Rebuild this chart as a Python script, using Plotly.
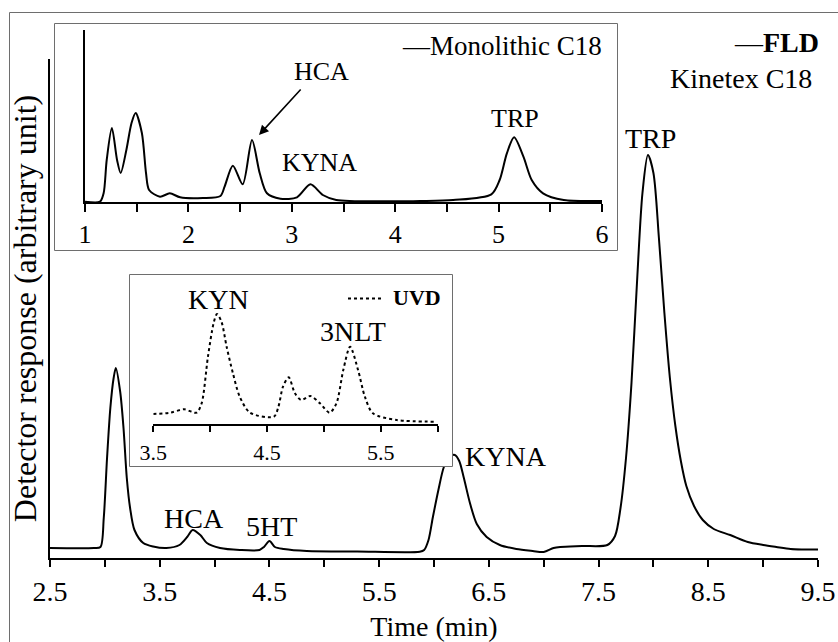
import plotly.graph_objects as go

# ---------------- data ----------------
# Main chromatogram: FLD, Kinetex C18 (time in min, response arbitrary)
main_time = [2.5, 2.9, 2.96, 2.99, 3.02, 3.05, 3.08, 3.1, 3.14, 3.17, 3.2, 3.23, 3.27, 3.35,
             3.44, 3.56, 3.68, 3.75, 3.8, 3.87, 3.93, 4.05, 4.23, 4.41, 4.45, 4.5, 4.55, 4.63,
             4.84, 5.3, 5.87, 5.91, 5.95, 5.99, 6.04, 6.09, 6.14, 6.19, 6.23, 6.27, 6.33, 6.39,
             6.48, 6.6, 6.75, 6.9, 7.0, 7.09, 7.15, 7.35, 7.58, 7.65, 7.7, 7.75, 7.8, 7.85,
             7.9, 7.95, 8.0, 8.05, 8.1, 8.15, 8.2, 8.25, 8.3, 8.37, 8.45, 8.55, 8.7, 8.86,
             9.0, 9.12, 9.25, 9.35, 9.5]
main_resp = [10, 10, 11, 40, 100, 150, 180, 190, 166, 130, 80, 50, 28, 15,
             11.5, 10, 13, 21, 28, 23, 15, 10, 8, 8, 11, 17, 11, 9,
             7, 6.5, 6.3, 8, 18, 41, 68, 91, 101, 103, 97, 81, 54, 34,
             21, 13, 9, 7, 6, 10, 11, 12, 13, 22, 50, 100, 175, 275,
             365, 403, 385, 320, 245, 180, 132, 97, 72, 52, 38, 29, 23, 16,
             13, 11, 9, 8.5, 8.5]

# Inset 1: Monolithic C18
mono_time = [1.0, 1.145, 1.18, 1.21, 1.26, 1.31, 1.345, 1.4, 1.45, 1.49, 1.55, 1.59, 1.62,
             1.725, 1.82, 1.92, 2.14, 2.31, 2.35, 2.43, 2.525, 2.615, 2.69, 2.76, 2.89, 3.05,
             3.18, 3.3, 3.43, 3.98, 4.24, 4.56, 4.93, 5.01, 5.08, 5.15, 5.24, 5.32, 5.43,
             5.63, 6.0]
mono_resp = [0.3, 0.3, 8.7, 42, 74, 42, 29, 52, 79, 89, 69, 29, 12,
             5.3, 8.7, 4.7, 4, 6, 15.3, 36.3, 17.7, 62, 28.7, 8.7, 3.3, 4.7,
             17.7, 7, 2, 0.7, 1, 2, 7.7, 22, 48.7, 64.7, 45.3, 22, 8.7,
             2, 1]

# Inset 2: UVD
uvd_time = [3.5, 3.65, 3.77, 3.88, 3.925, 3.98, 4.03, 4.06, 4.1, 4.145, 4.2, 4.26, 4.35,
            4.56, 4.6, 4.64, 4.69, 4.745, 4.8, 4.88, 4.965, 5.05, 5.11, 5.17, 5.23, 5.3,
            5.36, 5.43, 5.64, 5.99]
uvd_resp = [10, 11.3, 14.7, 11.3, 20.7, 67, 100.7, 110, 102, 77, 50.7, 27.3, 11.3,
            7.3, 17.3, 37.3, 46.7, 30.7, 24, 28, 20.7, 11.3, 20.7, 54, 77.3, 54,
            27.3, 10.7, 4, 2.3]

# peak labels (x = retention time, y = label height in axis units)
main_labels = [("HCA", 3.817, 40), ("5HT", 4.515, 32), ("KYNA", 6.66, 102), ("TRP", 7.97, 419)]
mono_labels = [("KYNA", 3.27, 40), ("TRP", 5.154, 83.5)]
uvd_labels = [("KYN", 4.069, 124.5), ("3NLT", 5.255, 92.3)]

W, H = 838, 642
FONT = "Liberation Serif"


def px(x):
    return x / W


def py(y):
    return 1 - y / H


GREY = "#6e6e6e"

fig = go.Figure()

# main trace
fig.add_trace(go.Scatter(x=main_time, y=main_resp, mode="lines", xaxis="x", yaxis="y",
                         line=dict(color="black", width=2, shape="spline", smoothing=0.8),
                         showlegend=False, hoverinfo="skip"))

# inset boxes (pixel-coordinate helper axes)
boxes = [(54.5, 23.5, 617.5, 250.5), (129.5, 274.5, 452.5, 466.5)]
for (x0, y0, x1, y1) in boxes:
    fig.add_trace(go.Scatter(x=[x0, x1, x1, x0, x0], y=[y0, y0, y1, y1, y0], mode="lines",
                             xaxis="x2", yaxis="y2", fill="toself", fillcolor="white",
                             line=dict(color=GREY, width=1), showlegend=False, hoverinfo="skip"))

# inset 1 trace
fig.add_trace(go.Scatter(x=mono_time, y=mono_resp, mode="lines", xaxis="x3", yaxis="y3",
                         line=dict(color="black", width=2, shape="spline", smoothing=0.8),
                         showlegend=False, hoverinfo="skip"))
# inset 2 trace
fig.add_trace(go.Scatter(x=uvd_time, y=uvd_resp, mode="lines", xaxis="x4", yaxis="y4",
                         line=dict(color="black", width=2, dash="dot", shape="spline", smoothing=0.8),
                         showlegend=False, hoverinfo="skip"))

ax_common = dict(showgrid=False, zeroline=False, linecolor="black", linewidth=2,
                 tickcolor="black", tickwidth=2)

annotations = []
for t, x, y in main_labels:
    annotations.append(dict(text=t, x=x, y=y, xref="x", yref="y", showarrow=False,
                            font=dict(family=FONT, size=28, color="black")))
for t, x, y in mono_labels:
    annotations.append(dict(text=t, x=x, y=y, xref="x3", yref="y3", showarrow=False,
                            font=dict(family=FONT, size=26, color="black")))
for t, x, y in uvd_labels:
    annotations.append(dict(text=t, x=x, y=y, xref="x4", yref="y4", showarrow=False,
                            font=dict(family=FONT, size=28, color="black")))
# HCA label with arrow in inset 1
annotations.append(dict(text="HCA", x=3.29, y=131, xref="x3", yref="y3", showarrow=False,
                        font=dict(family=FONT, size=26, color="black")))
annotations.append(dict(text="", x=2.683, y=67, xref="x3", yref="y3", ax=3.099, ay=114,
                        axref="x3", ayref="y3", showarrow=True, arrowhead=2, arrowsize=1.2,
                        arrowwidth=1.6, arrowcolor="black"))
# legends
annotations.append(dict(text="\u2014<b>FLD</b>", x=px(821), y=py(43), xref="paper", yref="paper",
                        xanchor="right", yanchor="middle", showarrow=False,
                        font=dict(family=FONT, size=28, color="black")))
annotations.append(dict(text="Kinetex C18", x=px(814), y=py(79), xref="paper", yref="paper",
                        xanchor="right", yanchor="middle", showarrow=False,
                        font=dict(family=FONT, size=28, color="black")))
annotations.append(dict(text="\u2014Monolithic C18", x=px(604), y=py(45.5), xref="paper", yref="paper",
                        xanchor="right", yanchor="middle", showarrow=False,
                        font=dict(family=FONT, size=27, color="black")))
annotations.append(dict(text="<b>UVD</b>", x=px(391), y=py(297.5), xref="paper", yref="paper",
                        xanchor="left", yanchor="middle", showarrow=False,
                        font=dict(family=FONT, size=22, color="black")))

shapes = [
    dict(type="rect", xref="paper", yref="paper", x0=px(9.5), y0=-0.05, x1=1.05, y1=py(12.5),
         line=dict(color=GREY, width=1), layer="below"),
    dict(type="line", xref="paper", yref="paper", x0=px(348), x1=px(384), y0=py(298.5), y1=py(298.5),
         line=dict(color="black", width=2, dash="dot")),
]

fig.update_layout(
    width=W, height=H,
    margin=dict(l=0, r=0, t=0, b=0),
    paper_bgcolor="white", plot_bgcolor="rgba(0,0,0,0)",
    font=dict(family=FONT, color="black"),
    showlegend=False,
    xaxis=dict(domain=[px(50), px(818)], anchor="y", range=[2.5, 9.5], showline=True,
               tick0=2.5, dtick=1, ticks="outside", ticklen=7, ticklabelstandoff=0,
               tickfont=dict(family=FONT, size=28, color="black"),
               minor=dict(dtick=0.5, tick0=2.5, ticks="outside", ticklen=7, tickwidth=2, tickcolor="black"),
               title=dict(text="Time (min)", font=dict(family=FONT, size=28, color="black"), standoff=11),
               automargin=False, **ax_common),
    yaxis=dict(domain=[py(558), py(59)], anchor="x", range=[0, 499], showline=True,
               showticklabels=False, ticks="",
               title=dict(text="Detector response (arbitrary unit)",
                          font=dict(family=FONT, size=32, color="black"), standoff=2),
               automargin=False, **ax_common),
    xaxis2=dict(domain=[0, 1], anchor="y2", range=[0, W], visible=False),
    yaxis2=dict(domain=[0, 1], anchor="x2", range=[H, 0], visible=False),
    xaxis3=dict(domain=[px(85), px(602)], anchor="y3", range=[1, 6], showline=True,
                tick0=1, dtick=1, ticks="outside", ticklen=8, ticklabelstandoff=0,
                tickfont=dict(family=FONT, size=26, color="black"),
                minor=dict(dtick=0.5, tick0=1, ticks="outside", ticklen=8, tickwidth=2, tickcolor="black"),
                automargin=False, **ax_common),
    yaxis3=dict(domain=[py(202), py(30)], anchor="x3", range=[0, 172], showline=True,
                showticklabels=False, ticks="", automargin=False, **ax_common),
    xaxis4=dict(domain=[px(153.3), px(437.7)], anchor="y4", range=[3.5, 6], showline=True,
                tick0=3.5, dtick=1, ticks="outside", ticklen=6, ticklabelstandoff=2,
                tickfont=dict(family=FONT, size=22, color="black"),
                minor=dict(dtick=0.5, tick0=3.5, ticks="outside", ticklen=6, tickwidth=2, tickcolor="black"),
                automargin=False, **ax_common),
    yaxis4=dict(domain=[py(424), py(285)], anchor="x4", range=[0, 139], visible=False),
    annotations=annotations,
    shapes=shapes,
)

fig.write_html("out.html")
